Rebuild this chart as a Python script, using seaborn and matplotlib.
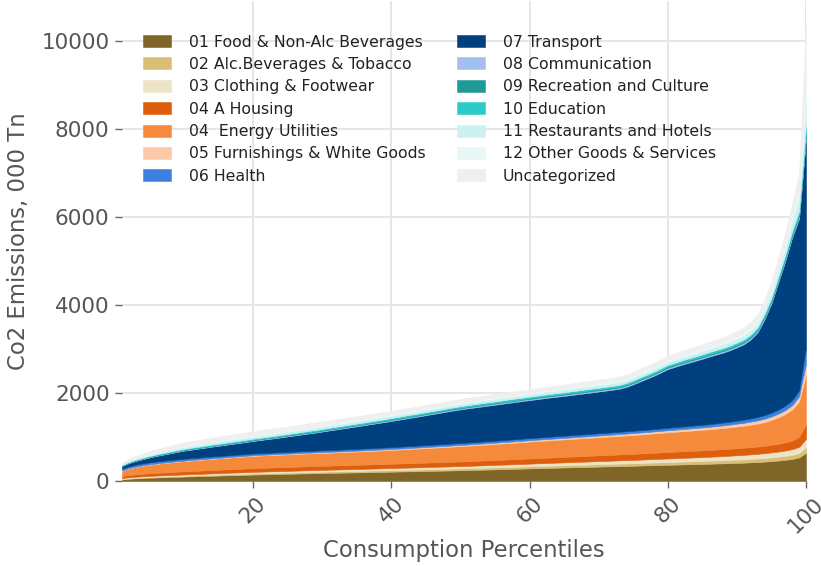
import matplotlib
matplotlib.use("Agg")
import matplotlib.pyplot as plt
import seaborn as sns
import numpy as np

percentiles = list(range(1, 101))

food = [35, 50, 60, 68, 75, 80, 85, 90, 95, 100,
        105, 110, 114, 119, 123, 128, 133, 137, 141, 146,
        150, 153, 157, 160, 164, 167, 171, 174, 178, 181,
        184, 187, 190, 193, 196, 199, 202, 205, 208, 212,
        215, 218, 221, 224, 228, 231, 234, 237, 241, 244,
        248, 252, 256, 260, 265, 269, 273, 278, 282, 287,
        291, 295, 299, 303, 307, 311, 315, 319, 323, 327,
        331, 335, 339, 343, 347, 351, 355, 360, 364, 368,
        372, 376, 380, 384, 388, 392, 397, 401, 406, 411,
        417, 424, 431, 440, 452, 465, 480, 500, 535, 640]

alcohol = [12, 13, 14, 15, 16, 17, 18, 18, 19, 20,
           21, 21, 22, 23, 23, 24, 25, 25, 26, 27,
           27, 28, 28, 29, 29, 30, 30, 31, 31, 32,
           32, 33, 33, 34, 34, 35, 35, 36, 37, 37,
           38, 38, 39, 39, 40, 40, 41, 41, 42, 42,
           43, 43, 44, 45, 45, 46, 46, 47, 48, 48,
           49, 49, 50, 51, 51, 52, 53, 53, 54, 55,
           55, 56, 57, 58, 58, 59, 60, 61, 62, 63,
           64, 65, 66, 67, 68, 69, 70, 72, 73, 75,
           76, 78, 80, 82, 85, 87, 90, 94, 100, 125]

clothing = [20, 22, 23, 24, 25, 26, 27, 27, 28, 29,
            29, 30, 30, 31, 32, 32, 33, 33, 34, 35,
            35, 36, 36, 37, 37, 38, 39, 39, 40, 40,
            41, 41, 42, 42, 43, 43, 44, 45, 45, 46,
            46, 47, 48, 48, 49, 50, 50, 51, 52, 53,
            53, 54, 55, 55, 56, 57, 58, 58, 59, 60,
            61, 62, 63, 64, 65, 66, 67, 68, 69, 70,
            71, 72, 73, 74, 75, 76, 77, 78, 80, 81,
            82, 84, 85, 87, 88, 90, 92, 94, 96, 99,
            101, 104, 107, 110, 114, 118, 123, 130, 142, 190]

housing = [45, 50, 54, 58, 61, 63, 65, 67, 69, 70,
           72, 73, 75, 76, 78, 79, 80, 82, 83, 85,
           85, 86, 87, 88, 88, 89, 90, 90, 91, 92,
           92, 93, 93, 94, 94, 95, 96, 96, 97, 98,
           98, 99, 100, 101, 101, 102, 103, 104, 105, 106,
           107, 108, 109, 110, 111, 112, 114, 115, 116, 118,
           119, 120, 121, 123, 124, 125, 127, 128, 129, 131,
           132, 133, 135, 136, 138, 139, 141, 143, 145, 147,
           148, 149, 150, 151, 152, 153, 155, 156, 158, 160,
           162, 164, 166, 168, 172, 177, 184, 196, 225, 340]

energy = [120, 148, 168, 182, 193, 203, 211, 219, 226, 232,
          238, 243, 248, 253, 257, 262, 266, 270, 274, 278,
          280, 282, 284, 285, 287, 288, 290, 291, 292, 294,
          295, 296, 298, 300, 302, 304, 306, 309, 311, 314,
          317, 320, 323, 327, 330, 334, 337, 341, 344, 348,
          351, 355, 358, 362, 365, 369, 372, 376, 380, 384,
          387, 390, 393, 396, 399, 402, 405, 408, 411, 414,
          417, 420, 423, 426, 430, 433, 437, 440, 444, 448,
          452, 456, 460, 464, 468, 472, 477, 482, 488, 494,
          501, 510, 522, 540, 565, 600, 645, 705, 800, 1120]

furnishings = [8, 9, 9, 10, 10, 11, 11, 12, 12, 12,
               13, 13, 13, 14, 14, 14, 15, 15, 15, 16,
               16, 16, 17, 17, 17, 18, 18, 18, 19, 19,
               19, 20, 20, 20, 21, 21, 21, 22, 22, 22,
               23, 23, 23, 24, 24, 25, 25, 25, 26, 26,
               27, 27, 28, 28, 29, 29, 30, 30, 31, 31,
               32, 32, 33, 34, 34, 35, 36, 36, 37, 38,
               38, 39, 40, 41, 42, 43, 44, 45, 46, 47,
               48, 50, 51, 53, 54, 56, 58, 60, 62, 65,
               67, 70, 73, 77, 81, 86, 92, 100, 125, 250]

health = [40, 42, 43, 43, 44, 44, 44, 43, 43, 42,
          42, 41, 41, 40, 40, 40, 39, 39, 39, 38,
          38, 38, 38, 38, 39, 39, 39, 39, 40, 40,
          40, 40, 40, 41, 41, 41, 41, 42, 42, 42,
          42, 43, 43, 43, 43, 44, 44, 44, 44, 45,
          45, 45, 45, 46, 46, 46, 47, 47, 47, 48,
          48, 48, 49, 49, 49, 50, 50, 50, 51, 51,
          51, 52, 52, 53, 53, 54, 54, 55, 55, 56,
          57, 57, 58, 59, 60, 61, 62, 64, 66, 68,
          70, 73, 76, 80, 85, 92, 100, 112, 135, 380]

transport = [60, 71, 84, 95, 111, 126, 139, 154, 168, 185,
             192, 204, 214, 224, 233, 243, 254, 265, 276, 285,
             299, 313, 323, 338, 354, 366, 381, 398, 409, 427,
             447, 462, 480, 496, 512, 530, 547, 561, 578, 594,
             613, 630, 648, 664, 683, 699, 716, 735, 750, 766,
             778, 788, 799, 809, 819, 829, 838, 847, 857, 864,
             873, 884, 892, 898, 906, 914, 922, 933, 941, 949,
             960, 968, 981, 1009, 1057, 1110, 1162, 1213, 1274, 1335,
             1372, 1408, 1440, 1470, 1502, 1537, 1564, 1591, 1626, 1668,
             1716, 1797, 1925, 2183, 2486, 2895, 3286, 3703, 3908, 4755]

communication = [8, 9, 10, 10, 11, 11, 12, 12, 12, 13,
                 13, 13, 14, 14, 14, 15, 15, 15, 15, 16,
                 16, 16, 16, 17, 17, 17, 17, 18, 18, 18,
                 18, 19, 19, 19, 19, 20, 20, 20, 20, 21,
                 21, 21, 21, 22, 22, 22, 22, 23, 23, 23,
                 23, 24, 24, 24, 24, 25, 25, 25, 25, 26,
                 26, 26, 26, 27, 27, 27, 27, 28, 28, 28,
                 28, 29, 29, 29, 29, 30, 30, 30, 31, 31,
                 31, 32, 32, 32, 33, 33, 33, 34, 34, 35,
                 35, 36, 37, 38, 40, 42, 44, 47, 52, 65]

recreation = [5, 6, 7, 7, 8, 8, 9, 9, 9, 10,
              10, 10, 10, 11, 11, 11, 11, 12, 12, 12,
              12, 12, 13, 13, 13, 13, 13, 14, 14, 14,
              14, 14, 14, 15, 15, 15, 15, 15, 15, 16,
              16, 16, 16, 16, 16, 17, 17, 17, 17, 17,
              17, 18, 18, 18, 18, 18, 19, 19, 19, 19,
              19, 20, 20, 20, 20, 21, 21, 21, 21, 22,
              22, 22, 22, 23, 23, 23, 24, 24, 24, 25,
              25, 25, 26, 26, 26, 27, 27, 28, 28, 29,
              29, 30, 31, 32, 33, 35, 37, 40, 45, 60]

education = [10, 12, 14, 15, 16, 17, 18, 19, 20, 20,
             21, 21, 22, 22, 23, 23, 23, 24, 24, 25,
             25, 25, 26, 26, 26, 27, 27, 27, 28, 28,
             28, 28, 29, 29, 29, 29, 30, 30, 30, 30,
             30, 31, 31, 31, 31, 31, 32, 32, 32, 32,
             32, 33, 33, 33, 33, 33, 34, 34, 34, 34,
             35, 35, 35, 35, 36, 36, 36, 36, 37, 37,
             37, 37, 38, 38, 38, 39, 39, 39, 40, 40,
             40, 41, 41, 41, 42, 42, 43, 43, 44, 44,
             45, 46, 47, 48, 50, 52, 55, 60, 70, 150]

restaurants = [15, 20, 24, 28, 31, 34, 36, 38, 40, 42,
               43, 44, 45, 46, 47, 48, 48, 49, 50, 50,
               50, 51, 51, 51, 51, 52, 52, 52, 52, 52,
               52, 52, 52, 52, 52, 52, 52, 52, 52, 52,
               52, 52, 52, 52, 52, 52, 52, 53, 53, 53,
               53, 53, 53, 54, 54, 54, 55, 55, 56, 56,
               57, 57, 58, 58, 59, 59, 60, 61, 61, 62,
               62, 63, 64, 64, 65, 66, 67, 67, 68, 69,
               70, 71, 72, 74, 75, 77, 79, 81, 84, 87,
               91, 96, 102, 112, 128, 150, 175, 215, 300, 520]

other_goods = [12, 16, 19, 21, 23, 25, 26, 27, 28, 29,
               30, 30, 31, 31, 32, 32, 33, 33, 33, 34,
               34, 34, 34, 34, 34, 34, 34, 34, 34, 34,
               34, 34, 34, 34, 34, 34, 34, 34, 34, 34,
               34, 34, 34, 34, 35, 35, 35, 35, 35, 35,
               36, 36, 36, 37, 37, 37, 38, 38, 38, 39,
               39, 40, 40, 40, 41, 41, 42, 42, 43, 43,
               44, 44, 45, 45, 46, 46, 47, 48, 48, 49,
               50, 51, 52, 53, 54, 55, 56, 58, 59, 61,
               63, 66, 70, 76, 85, 98, 115, 140, 190, 420]

uncategorized = [25, 34, 42, 49, 55, 60, 64, 68, 72, 75,
                 77, 79, 81, 83, 84, 85, 86, 87, 88, 89,
                 89, 89, 88, 88, 87, 87, 86, 86, 85, 85,
                 84, 83, 83, 82, 81, 81, 80, 79, 79, 78,
                 78, 77, 77, 76, 76, 75, 75, 75, 74, 74,
                 74, 74, 74, 74, 74, 74, 74, 74, 75, 75,
                 75, 75, 76, 76, 77, 77, 78, 78, 79, 80,
                 80, 81, 82, 83, 84, 85, 86, 88, 89, 90,
                 92, 93, 95, 97, 99, 101, 104, 107, 110, 114,
                 119, 125, 133, 145, 165, 190, 225, 275, 380, 1380]

labels = ["01 Food & Non-Alc Beverages", "02 Alc.Beverages & Tobacco",
          "03 Clothing & Footwear", "04 A Housing", "04  Energy Utilities",
          "05 Furnishings & White Goods", "06 Health", "07 Transport",
          "08 Communication", "09 Recreation and Culture", "10 Education",
          "11 Restaurants and Hotels", "12 Other Goods & Services",
          "Uncategorized"]

colors = ["#7f6628", "#d8bf78", "#ede3c6", "#dd5e0c", "#f58a3d", "#fccaa8",
          "#3b82e0", "#00407f", "#a0c0f0", "#219a96", "#2ccaca", "#cdf0f0",
          "#e6f8f8", "#efefef"]

series = [food, alcohol, clothing, housing, energy, furnishings, health,
          transport, communication, recreation, education, restaurants,
          other_goods, uncategorized]

sns.set_theme(style="whitegrid")
plt.rcParams["font.family"] = ["DejaVu Sans"]

fig = plt.figure(figsize=(8.21, 5.66), dpi=100)
ax = fig.add_axes([0.1486, 0.1502, 0.8331, 0.8478])

ax.stackplot(percentiles, *series, labels=labels, colors=colors,
             edgecolor="face", linewidth=0.4)

total_max = np.max(np.sum(np.array(series), axis=0))
ax.set_xlim(1, 100)
ax.set_ylim(0, total_max * 1.05)
ax.set_xticks([20, 40, 60, 80, 100])
ax.set_yticks([0, 2000, 4000, 6000, 8000, 10000])

for s in ax.spines.values():
    s.set_visible(False)
ax.grid(True, color="#e6e6e6", linewidth=1.4)
ax.set_axisbelow(True)

txt = "#555555"
ax.tick_params(axis="both", which="major", direction="out", length=5,
               width=1.0, color="#666666", labelsize=15.5, labelcolor=txt,
               left=True, bottom=True, pad=4)
plt.setp(ax.get_xticklabels(), rotation=45)

ax.set_xlabel("Consumption Percentiles", fontsize=16.4, color=txt, labelpad=2)
ax.set_ylabel("Co2 Emissions, 000 Tn", fontsize=16.4, color=txt, labelpad=8)

ax.legend(loc="upper left", bbox_to_anchor=(0.1742, 0.939),
          bbox_transform=fig.transFigure, ncol=2, frameon=False,
          fontsize=11.3, handlelength=1.8, handleheight=0.8,
          handletextpad=1.15, labelspacing=0.47, columnspacing=1.95,
          borderpad=0, borderaxespad=0, labelcolor="#222222")

fig.savefig("out.png", dpi=100)
